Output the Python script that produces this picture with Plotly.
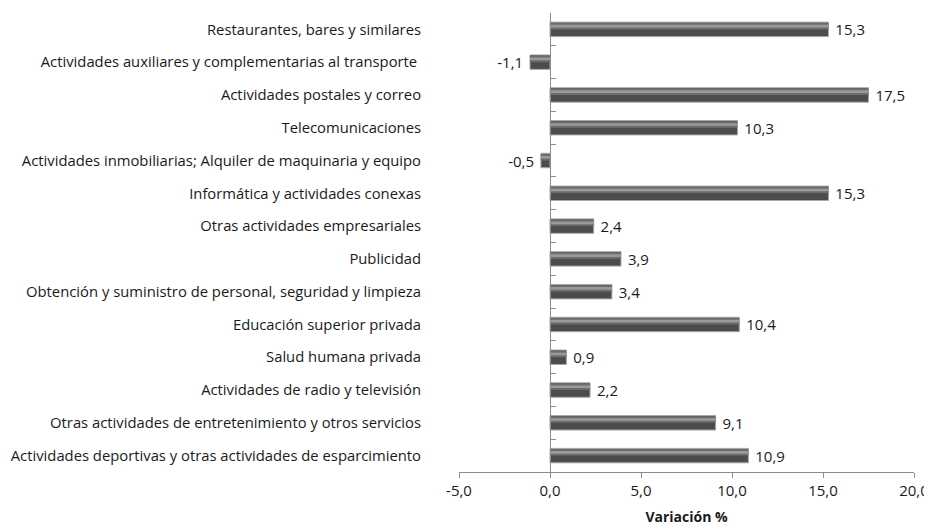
import plotly.graph_objects as go

categories = [
    "Restaurantes, bares y similares",
    "Actividades auxiliares y complementarias al transporte ",
    "Actividades postales y correo",
    "Telecomunicaciones",
    "Actividades inmobiliarias; Alquiler de maquinaria y equipo",
    "Informática y actividades conexas",
    "Otras actividades empresariales",
    "Publicidad",
    "Obtención y suministro de personal, seguridad y limpieza",
    "Educación superior privada",
    "Salud humana privada",
    "Actividades de radio y televisión",
    "Otras actividades de entretenimiento y otros servicios",
    "Actividades deportivas y otras actividades de esparcimiento",
]
values = [15.3, -1.1, 17.5, 10.3, -0.5, 15.3, 2.4, 3.9, 3.4, 10.4, 0.9, 2.2, 9.1, 10.9]
x_ticks = [-5, 0, 5, 10, 15, 20]
x_ticktext = ["-5,0", "0,0", "5,0", "10,0", "15,0", "20,0"]

# bottom-to-top order for plotting
cats = categories[::-1]
vals = values[::-1]
labels = [(" " + f"{v:.1f}".replace(".", ",")) if v >= 0 else (f"{v:.1f}".replace(".", ",") + " ") for v in vals]

FONT = "Open Sans"
TXT = "#1a1a1a"
AX = "#8c8c8c"
fig = go.Figure()
# base body
fig.add_trace(go.Bar(
    y=cats, x=vals, orientation="h", width=0.44, offset=-0.22,
    marker=dict(color="#4c4c4c", line=dict(color="#a8a8a8", width=1)),
    text=labels, textposition="outside", cliponaxis=False, constraintext="none",
    textfont=dict(family=FONT, size=15, color=TXT),
    hoverinfo="skip", showlegend=False,
))
# mid tone band
fig.add_trace(go.Bar(
    y=cats, x=vals, orientation="h", width=0.2, offset=-0.0,
    marker=dict(color="#6c6c6c", line=dict(width=0)),
    hoverinfo="skip", showlegend=False,
))
# highlight band
fig.add_trace(go.Bar(
    y=cats, x=vals, orientation="h", width=0.08, offset=0.06,
    marker=dict(color="#9a9a9a", line=dict(width=0)),
    hoverinfo="skip", showlegend=False,
))

fig.update_layout(
    width=924, height=523,
    barmode="overlay",
    separators=",.",
    paper_bgcolor="white", plot_bgcolor="white",
    margin=dict(l=451, r=18, t=5, b=59, autoexpand=False),
    font=dict(family=FONT, size=13, color=TXT),
    xaxis=dict(
        range=[-5, 20], tickvals=x_ticks, ticktext=x_ticktext,
        showgrid=False, zeroline=False, automargin=False,
        showline=True, linecolor=AX, linewidth=1,
        ticks="outside", ticklen=5, tickcolor=AX,
        tickfont=dict(family=FONT, size=15, color=TXT),
        title=dict(text="<b>Variación %</b>", font=dict(family=FONT, size=14, color=TXT), standoff=13),
    ),
    yaxis=dict(
        type="category", categoryorder="array", categoryarray=cats,
        anchor="free", position=0.2, side="left", automargin=False,
        showgrid=False, zeroline=False,
        showline=True, linecolor=AX, linewidth=1,
        ticks="inside", ticklen=5, tickcolor=AX, tickson="boundaries",
        ticklabelstandoff=126,
        tickfont=dict(family=FONT, size=14.8, color=TXT),
    ),
)

fig.write_html("out.html")
